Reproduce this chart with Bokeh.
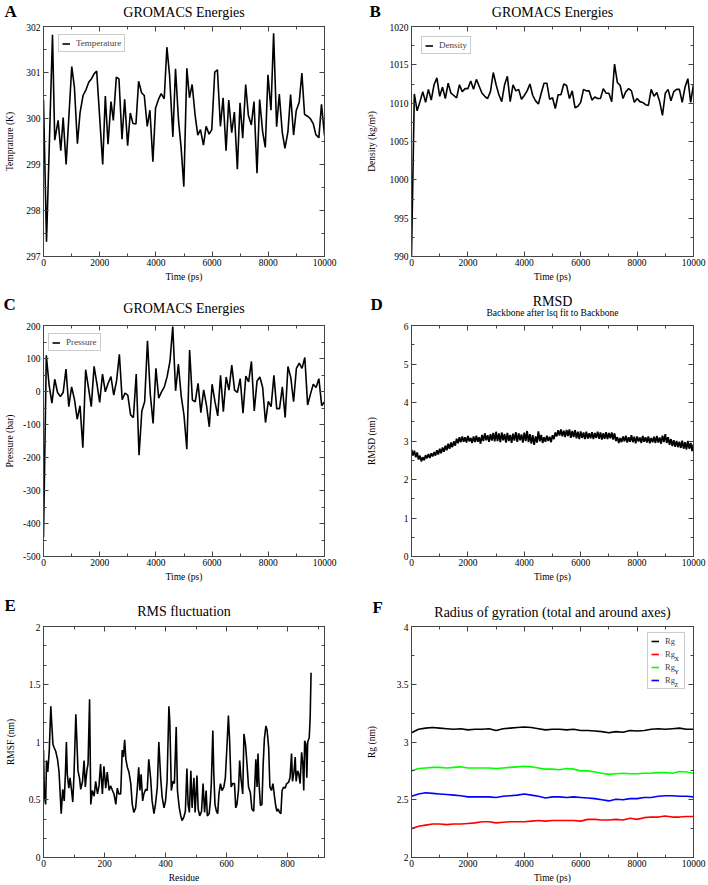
from bokeh.plotting import figure
from bokeh.models import (Range1d, LinearAxis, SingleIntervalTicker, CustomJSTickFormatter,
                          Legend, LegendItem)
from bokeh.core.properties import value
from bokeh.layouts import column, row
from bokeh.embed import file_html
from bokeh.resources import INLINE

# ---------------- data ----------------
# A: temperature
time_temp = [0, 107, 320, 400, 520, 615, 700, 805, 1006, 1100,
             1207, 1300, 1408, 1515, 1610, 1704, 1800, 1893, 2107, 2200,
             2296, 2402, 2485, 2592, 2686, 2793, 2888, 2994, 3089, 3184,
             3290, 3385, 3491, 3586, 3692, 3787, 3893, 3988, 4095, 4189,
             4296, 4391, 4485, 4604, 4698, 4805, 4899, 4994, 5101, 5195,
             5290, 5396, 5491, 5586, 5692, 5787, 5893, 5988, 6095, 6189,
             6296, 6391, 6497, 6592, 6698, 6793, 6899, 6994, 7089, 7195,
             7290, 7396, 7491, 7598, 7692, 7799, 7893, 7988, 8095, 8189,
             8296, 8391, 8497, 8592, 8698, 8793, 8900, 8994, 9101, 9195,
             9290, 9396, 9491, 9598, 9692, 9799, 9893, 10000]
temperature = [300.40, 297.32, 301.82, 299.53, 299.96, 299.30, 300.02, 299.00, 301.13, 300.68,
               299.45, 300.12, 300.50, 300.63, 300.79, 300.86, 300.97, 301.03, 299.00, 300.49,
               299.44, 300.37, 299.96, 300.90, 300.86, 299.55, 300.42, 299.41, 300.12, 299.89,
               299.88, 300.81, 300.56, 300.50, 299.83, 300.18, 299.06, 300.23, 300.42, 300.54,
               300.43, 301.55, 300.95, 299.60, 301.08, 299.96, 299.35, 298.52, 301.09, 300.45,
               300.74, 300.07, 299.64, 299.76, 299.42, 299.83, 299.66, 299.76, 301.01, 301.06,
               299.83, 300.45, 299.30, 300.40, 299.69, 300.14, 298.90, 300.34, 299.57, 300.74,
               300.07, 299.86, 300.37, 298.81, 300.41, 299.71, 299.37, 300.95, 300.18, 301.85,
               299.82, 300.53, 299.70, 299.35, 299.71, 300.52, 299.64, 300.17, 300.36, 300.99,
               300.09, 300.05, 300.00, 299.89, 299.65, 299.58, 300.31, 299.63]

# B: density (every 100 ps)
time_100 = list(range(0, 10001, 100))
density = [990.0, 1011.2, 1009.0, 1010.2, 1011.5, 1010.1, 1011.8, 1010.4, 1012.4, 1013.3,
           1010.9, 1012.1, 1010.6, 1012.6, 1011.3, 1011.0, 1010.7, 1012.4, 1011.5, 1011.9,
           1011.9, 1012.9, 1011.8, 1013.1, 1012.2, 1011.3, 1010.9, 1010.6, 1011.5, 1014.0,
           1012.4, 1011.1, 1010.2, 1012.4, 1013.5, 1010.2, 1012.4, 1011.6, 1011.8, 1010.5,
           1011.0, 1011.6, 1012.5, 1011.0, 1010.3, 1009.9, 1011.3, 1012.6, 1012.6, 1010.5,
           1010.7, 1009.3, 1011.1, 1011.1, 1012.5, 1012.3, 1010.6, 1011.6, 1009.4, 1009.6,
           1010.1, 1011.8, 1011.6, 1011.6, 1010.4, 1010.8, 1010.6, 1010.6, 1011.9, 1011.3,
           1011.3, 1010.2, 1015.1, 1012.7, 1012.3, 1010.6, 1011.5, 1011.9, 1011.6, 1010.1,
           1010.6, 1010.2, 1010.1, 1009.8, 1009.7, 1011.8, 1010.9, 1011.4, 1010.2, 1008.4,
           1011.3, 1011.8, 1010.3, 1011.5, 1011.8, 1011.8, 1010.1, 1012.1, 1013.2, 1010.1,
           1012.5]

# C: pressure (every 100 ps)
pressure = [-442, 110, 19, -35, 37, -3, -15, -3, 68, -46,
            14, -23, -84, -43, -170, 66, 12, -46, 76, 24,
            -33, 53, -1, 25, 45, -11, 32, 113, -25, -5,
            -11, -71, -79, 53, -193, -59, -31, 154, -8, -97,
            70, -20, -1, 14, 45, 91, 197, 2, 83, -13,
            -72, -175, 126, -26, -31, 25, -64, 5, -41, -107,
            22, -30, -74, 49, -61, 44, 4, 80, 4, -3,
            39, -66, 47, 29, 91, -59, 32, 44, 12, -94,
            -30, -46, 49, -52, -52, 14, -79, 76, 42, -31,
            70, 86, 70, 103, -41, -8, 22, 12, 39, -43,
            -31]

# D: backbone RMSD (every 50 ps)
time_50 = list(range(0, 10001, 50))
rmsd = [2.78, 2.62, 2.75, 2.58, 2.70, 2.52, 2.62, 2.47, 2.58, 2.50,
        2.63, 2.55, 2.66, 2.56, 2.68, 2.60, 2.71, 2.62, 2.76, 2.65,
        2.80, 2.68, 2.83, 2.72, 2.88, 2.76, 2.93, 2.80, 2.96, 2.84,
        2.99, 2.88, 3.06, 2.94, 3.10, 2.97, 3.12, 2.98, 3.10, 2.96,
        3.13, 2.99, 3.08, 2.95, 3.12, 2.97, 3.14, 2.98, 3.10, 2.93,
        3.16, 3.00, 3.20, 3.02, 3.15, 2.98, 3.18, 3.01, 3.21, 2.99,
        3.24, 3.00, 3.20, 2.97, 3.22, 3.02, 3.18, 2.96, 3.21, 3.00,
        3.16, 2.95, 3.19, 3.01, 3.23, 2.98, 3.20, 3.02, 3.17, 2.96,
        3.22, 3.00, 3.26, 2.97, 3.18, 2.93, 3.15, 2.90, 3.12, 2.96,
        3.25, 2.99, 3.16, 2.95, 3.10, 2.98, 3.14, 3.00, 3.11, 2.97,
        3.15, 3.05, 3.22, 3.12, 3.28, 3.14, 3.30, 3.12, 3.27, 3.10,
        3.29, 3.13, 3.30, 3.08, 3.26, 3.10, 3.28, 3.07, 3.24, 3.05,
        3.25, 3.08, 3.22, 3.05, 3.24, 3.06, 3.20, 3.07, 3.23, 3.05,
        3.21, 3.08, 3.24, 3.06, 3.22, 3.04, 3.20, 3.06, 3.23, 3.05,
        3.21, 3.07, 3.22, 3.04, 3.20, 3.00, 3.10, 2.95, 3.08, 2.97,
        3.12, 2.99, 3.14, 2.96, 3.10, 2.98, 3.15, 2.97, 3.11, 2.94,
        3.12, 2.99, 3.09, 2.95, 3.13, 2.98, 3.10, 2.96, 3.12, 2.94,
        3.08, 2.97, 3.11, 2.95, 3.13, 2.96, 3.09, 2.93, 3.14, 2.97,
        3.18, 2.95, 3.10, 2.90, 3.05, 2.87, 3.02, 2.85, 3.00, 2.84,
        2.98, 2.82, 3.01, 2.80, 2.97, 2.78, 3.00, 2.80, 2.95, 2.74,
        2.92]

# E: RMSF per residue
residue = [0, 3, 7, 10, 14, 19, 24, 27, 31, 35,
           40, 46, 51, 58, 63, 68, 72, 75, 78, 83,
           87, 92, 96, 100, 106, 109, 113, 118, 122, 128,
           133, 137, 142, 146, 151, 155, 160, 166, 171, 177,
           182, 187, 193, 198, 204, 209, 215, 220, 226, 231,
           237, 242, 247, 253, 258, 262, 266, 270, 275, 280,
           286, 291, 296, 302, 307, 312, 316, 320, 325, 329,
           335, 340, 345, 351, 356, 362, 367, 373, 378, 384,
           389, 395, 400, 405, 411, 414, 419, 424, 429, 435,
           439, 445, 450, 454, 460, 465, 470, 474, 478, 483,
           487, 493, 497, 503, 507, 512, 518, 523, 528, 533,
           537, 543, 547, 550, 555, 558, 562, 567, 571, 575,
           580, 585, 591, 596, 602, 606, 610, 615, 620, 626,
           630, 634, 639, 643, 647, 653, 657, 662, 667, 672,
           678, 683, 689, 693, 696, 700, 703, 706, 711, 716,
           720, 724, 729, 733, 738, 742, 747, 752, 756, 761,
           765, 769, 774, 778, 782, 787, 792, 797, 803, 808,
           813, 816, 821, 825, 828, 833, 837, 841, 846, 850,
           853, 856, 860, 863, 866, 871, 874, 877]
rmsf = [0.93, 0.53, 0.46, 0.84, 0.74, 0.93, 1.31, 1.16, 0.98, 0.95,
        0.92, 0.85, 0.74, 0.38, 0.59, 0.49, 0.74, 1.00, 0.72, 0.60,
        0.69, 0.58, 0.48, 0.72, 1.24, 1.04, 0.75, 0.69, 0.59, 0.66,
        0.84, 0.61, 0.75, 0.81, 1.37, 0.46, 0.58, 0.53, 0.66, 0.55,
        0.62, 0.81, 0.55, 0.79, 0.60, 0.74, 0.58, 0.62, 0.58, 0.55,
        0.46, 0.60, 0.55, 0.55, 0.93, 0.87, 1.02, 0.85, 0.78, 0.74,
        0.64, 0.46, 0.39, 0.43, 0.58, 0.78, 0.58, 0.72, 0.49, 0.55,
        0.59, 0.58, 0.85, 0.69, 0.49, 0.38, 0.46, 0.61, 1.00, 0.69,
        0.52, 0.43, 0.49, 0.66, 1.31, 1.18, 0.58, 0.66, 0.64, 1.13,
        0.58, 0.43, 0.36, 0.32, 0.35, 0.40, 0.77, 0.46, 0.39, 0.75,
        0.43, 0.69, 0.39, 0.71, 0.42, 0.36, 0.40, 0.64, 0.39, 0.58,
        0.36, 0.38, 0.49, 0.64, 1.10, 0.74, 0.46, 0.40, 0.38, 0.55,
        0.64, 0.58, 0.61, 0.69, 1.00, 1.23, 1.01, 0.61, 0.64, 0.64,
        0.43, 0.46, 0.58, 0.84, 0.69, 0.55, 1.07, 0.98, 0.81, 0.61,
        0.56, 0.42, 0.40, 0.66, 0.85, 0.61, 0.90, 0.66, 0.45, 0.46,
        0.81, 1.03, 1.14, 1.10, 0.95, 0.61, 0.58, 0.64, 0.55, 0.45,
        0.40, 0.42, 0.39, 0.38, 0.58, 0.61, 0.60, 0.64, 0.65, 0.69,
        0.90, 0.66, 0.74, 0.87, 0.66, 0.75, 0.72, 0.64, 0.91, 0.81,
        0.58, 1.01, 0.98, 0.69, 1.00, 1.04, 1.21, 1.60]

# F: radius of gyration (every 250 ps)
time_250 = list(range(0, 10001, 250))
rg = [3.08, 3.11, 3.12, 3.125, 3.12, 3.115, 3.11, 3.115, 3.105, 3.11,
      3.11, 3.115, 3.10, 3.115, 3.12, 3.125, 3.13, 3.125, 3.115, 3.105,
      3.11, 3.11, 3.105, 3.11, 3.10, 3.10, 3.095, 3.09, 3.08, 3.09,
      3.085, 3.10, 3.095, 3.10, 3.11, 3.115, 3.11, 3.115, 3.12, 3.11,
      3.11]
rg_x = [2.25, 2.27, 2.28, 2.29, 2.29, 2.285, 2.29, 2.29, 2.295, 2.30,
        2.31, 2.31, 2.30, 2.305, 2.31, 2.31, 2.31, 2.315, 2.32, 2.315,
        2.32, 2.32, 2.32, 2.32, 2.315, 2.33, 2.33, 2.325, 2.325, 2.33,
        2.325, 2.34, 2.33, 2.345, 2.35, 2.35, 2.36, 2.35, 2.35, 2.355,
        2.355]
rg_y = [2.75, 2.77, 2.775, 2.78, 2.78, 2.775, 2.78, 2.785, 2.775, 2.775,
        2.775, 2.775, 2.77, 2.775, 2.78, 2.785, 2.79, 2.785, 2.775, 2.765,
        2.765, 2.76, 2.77, 2.765, 2.75, 2.75, 2.74, 2.73, 2.72, 2.725,
        2.73, 2.725, 2.725, 2.73, 2.73, 2.735, 2.735, 2.73, 2.745, 2.74,
        2.73]
rg_z = [2.53, 2.55, 2.56, 2.555, 2.55, 2.545, 2.54, 2.535, 2.525, 2.525,
        2.525, 2.525, 2.52, 2.53, 2.535, 2.54, 2.55, 2.54, 2.53, 2.515,
        2.525, 2.525, 2.52, 2.525, 2.52, 2.515, 2.51, 2.50, 2.49, 2.505,
        2.50, 2.51, 2.51, 2.52, 2.52, 2.53, 2.535, 2.535, 2.53, 2.53,
        2.525]

# ---------------- layout & styling ----------------
FONT = "Liberation Serif"
FRAME = "#444444"
LW = 1.6
COLS = [(43, 281, 28), (59, 282, 14)]                 # left border, frame width, right border
ROWS = [(26, 230, 36), (33, 231, 34), (36, 231, 27)]  # top space, frame height, bottom border
AXIS_TOP = 3                                          # border kept above frame for top ticks
LETTER = 17
MID = 0.3375   # distance (in em) from the middle of a text line to its baseline

num_fmt = CustomJSTickFormatter(code="return String(Math.round(tick*1000)/1000);")


def make_fig(col, rw, xr, yr):
    bl, fw, br = COLS[col]
    bt, fh, bb = ROWS[rw]
    p = figure(frame_width=fw, frame_height=fh, min_border_left=bl, min_border_right=br,
               min_border_top=AXIS_TOP, min_border_bottom=bb,
               x_range=Range1d(*xr), y_range=Range1d(*yr),
               output_backend="svg", toolbar_location=None, tools="")
    p.title_location = None
    p.xgrid.visible = False
    p.ygrid.visible = False
    p.outline_line_color = FRAME
    p.outline_line_width = 1
    return p


def make_header(col, rw, texts):
    """texts: list of (x_from_frame_left, baseline_above_frame_top, text, size_px, bold, align)"""
    bl, fw, br = COLS[col]
    bt, fh, bb = ROWS[rw]
    W = bl + fw + br
    H = bt - AXIS_TOP
    h = figure(width=W, height=H, min_border=0, x_range=Range1d(0, W), y_range=Range1d(0, H),
               output_backend="svg", toolbar_location=None, tools="",
               x_axis_location=None, y_axis_location=None, frame_align=False)
    h.title_location = None
    h.outline_line_color = None
    h.xgrid.visible = False
    h.ygrid.visible = False
    for (x, above, text, size, bold, align) in texts:
        h.text(x=[bl + x], y=[above - AXIS_TOP + MID * size], text=[text],
               text_font=value(FONT), text_font_size=value(f"{size}px"),
               text_font_style=value("bold" if bold else "normal"),
               text_align=value(align), text_baseline=value("middle"),
               text_line_height=1.0, text_color="black")
    return h


def style_axes(p, xint, xminor, yint, yminor, xlabel, ylabel, ystand):
    top = LinearAxis()
    right = LinearAxis()
    p.add_layout(top, "above")
    p.add_layout(right, "right")
    xt = SingleIntervalTicker(interval=xint, num_minor_ticks=xminor)
    yt = SingleIntervalTicker(interval=yint, num_minor_ticks=yminor)
    for ax in p.xaxis:
        ax.ticker = xt
    for ax in p.yaxis:
        ax.ticker = yt
    for ax in list(p.xaxis) + list(p.yaxis):
        ax.major_tick_in = 5
        ax.major_tick_out = 0
        ax.minor_tick_in = 3
        ax.minor_tick_out = 0
        ax.axis_line_color = FRAME
        ax.major_tick_line_color = FRAME
        ax.minor_tick_line_color = FRAME
        ax.major_label_text_font = FONT
        ax.major_label_text_font_size = "9.5px"
        ax.major_label_text_color = "black"
        ax.axis_label_text_font = FONT
        ax.axis_label_text_font_style = "normal"
        ax.axis_label_text_font_size = "9.5px"
        ax.axis_label_text_color = "black"
        ax.formatter = num_fmt
    for ax in (top, right):
        ax.formatter = CustomJSTickFormatter(code="return '';")
        ax.major_label_text_font_size = "1px"
        ax.major_label_standoff = 0
    bx = p.below[0]
    lx = p.left[0]
    bx.axis_label = xlabel
    bx.major_label_standoff = 2
    bx.axis_label_standoff = 3
    lx.axis_label = ylabel
    lx.major_label_standoff = 3
    lx.axis_label_standoff = ystand


def simple_legend(p, r, text, dx, dy):
    h = 16
    leg = Legend(items=[LegendItem(label=text, renderers=[r])],
                 location=(dx, p.frame_height - dy - h),
                 label_text_font=FONT, label_text_font_size="9px",
                 glyph_width=8, glyph_height=9, label_height=9, label_standoff=6,
                 padding=3, spacing=0, margin=0,
                 border_line_color="#9a9a9a", border_line_width=1,
                 background_fill_color="white", background_fill_alpha=1)
    p.add_layout(leg)


# ---- A ----
pA = make_fig(0, 0, (0, 10000), (297, 302))
style_axes(pA, 2000, 2, 1, 2, "Time (ps)", "Temprature (K)", 8)
rA = pA.line(time_temp, temperature, line_color="black", line_width=LW)
simple_legend(pA, rA, "Temperature", 15, 10)
hA = make_header(0, 0, [(-39, 9, "A", LETTER, True, "left"),
                        (281 / 2, 9.5, "GROMACS Energies", 14, False, "center")])

# ---- B ----
pB = make_fig(1, 0, (0, 10000), (990, 1020))
style_axes(pB, 2000, 2, 5, 2, "Time (ps)", "Density (kg/m³)", 10)
rB = pB.line(time_100, density, line_color="black", line_width=LW)
simple_legend(pB, rB, "Density", 10, 12)
hB = make_header(1, 0, [(-42, 9, "B", LETTER, True, "left"),
                        (282 / 2, 9, "GROMACS Energies", 14, False, "center")])

# ---- C ----
pC = make_fig(0, 1, (0, 10000), (-500, 200))
style_axes(pC, 2000, 2, 100, 2, "Time (ps)", "Pressure (bar)", 5)
rC = pC.line(time_100, pressure, line_color="black", line_width=LW)
simple_legend(pC, rC, "Pressure", 5, 10)
hC = make_header(0, 1, [(-40, 15, "C", LETTER, True, "left"),
                        (281 / 2, 12, "GROMACS Energies", 14, False, "center")])

# ---- D ----
pD = make_fig(1, 1, (0, 10000), (0, 6))
style_axes(pD, 2000, 2, 1, 2, "Time (ps)", "RMSD (nm)", 24)
pD.line(time_50, rmsd, line_color="black", line_width=1.8)
hD = make_header(1, 1, [(-41, 15, "D", LETTER, True, "left"),
                        (282 / 2, 19.5, "RMSD", 14, False, "center"),
                        (282 / 2, 9, "Backbone after lsq fit to Backbone", 9.5, False, "center")])

# ---- E ----
pE = make_fig(0, 2, (0, 921), (0, 2))
style_axes(pE, 200, 2, 0.5, 3, "Residue", "RMSF (nm)", 10)
pE.line(residue, rmsf, line_color="black", line_width=LW)
hE = make_header(0, 2, [(-39, 15, "E", LETTER, True, "left"),
                        (281 / 2, 10, "RMS fluctuation", 14, False, "center")])

# ---- F ----
pF = make_fig(1, 2, (0, 10000), (2, 4))
style_axes(pF, 2000, 2, 0.5, 2, "Time (ps)", "Rg (nm)", 17)
r0 = pF.line(time_250, rg, line_color="black", line_width=LW)
r1 = pF.line(time_250, rg_x, line_color="#ff0000", line_width=LW)
r2 = pF.line(time_250, rg_y, line_color="#00ff00", line_width=LW)
r3 = pF.line(time_250, rg_z, line_color="#0000ff", line_width=LW)
LEG_TOP, LEG_RIGHT, LEG_PAD, LEG_GW, LEG_STAND, LEG_LW, LEG_LH, LEG_SP = 8, 10, 3, 8, 6, 16, 10, 3
fwF, fhF = pF.frame_width, pF.frame_height
leg_w = 2 * LEG_PAD + LEG_GW + LEG_STAND + LEG_LW
leg_h = 2 * LEG_PAD + 4 * LEG_LH + 3 * LEG_SP
leg_left = fwF - LEG_RIGHT - leg_w
legF = Legend(items=[LegendItem(label="Rg", renderers=[r]) for r in (r0, r1, r2, r3)],
              location=(leg_left, fhF - LEG_TOP - leg_h), margin=0,
              label_text_font=FONT, label_text_font_size="8.5px",
              glyph_width=LEG_GW, glyph_height=LEG_LH, label_height=LEG_LH, label_width=LEG_LW,
              label_standoff=LEG_STAND, padding=LEG_PAD, spacing=LEG_SP,
              border_line_color="#9a9a9a", border_line_width=1,
              background_fill_alpha=0)
pF.add_layout(legF)
# subscripts of the legend labels, placed from the legend geometry (pixels -> data)
sub_px = leg_left + LEG_PAD + LEG_GW + LEG_STAND + 10
sub_x, sub_y, sub_t = [], [], []
for i, s in enumerate(["X", "Y", "Z"], start=1):
    row_c = LEG_TOP + LEG_PAD + LEG_LH / 2 + i * (LEG_LH + LEG_SP)
    sub_x.append(sub_px * 10000 / fwF)
    sub_y.append(4 - (row_c + 3.5) * 2 / fhF)
    sub_t.append(s)
pF.text(x=sub_x, y=sub_y, text=sub_t, text_font=value(FONT), text_font_size=value("6px"),
        text_baseline=value("middle"), text_align=value("left"), text_color="black",
        text_line_height=1.0)
hF = make_header(1, 2, [(-39, 13, "F", LETTER, True, "left"),
                        (282 / 2, 9, "Radius of gyration (total and around axes)", 14, False, "center")])

layout = column(row(column(hA, pA), column(hB, pB)),
                row(column(hC, pC), column(hD, pD)),
                row(column(hE, pE), column(hF, pF)))
open("out.html", "w").write(file_html(layout, INLINE))
